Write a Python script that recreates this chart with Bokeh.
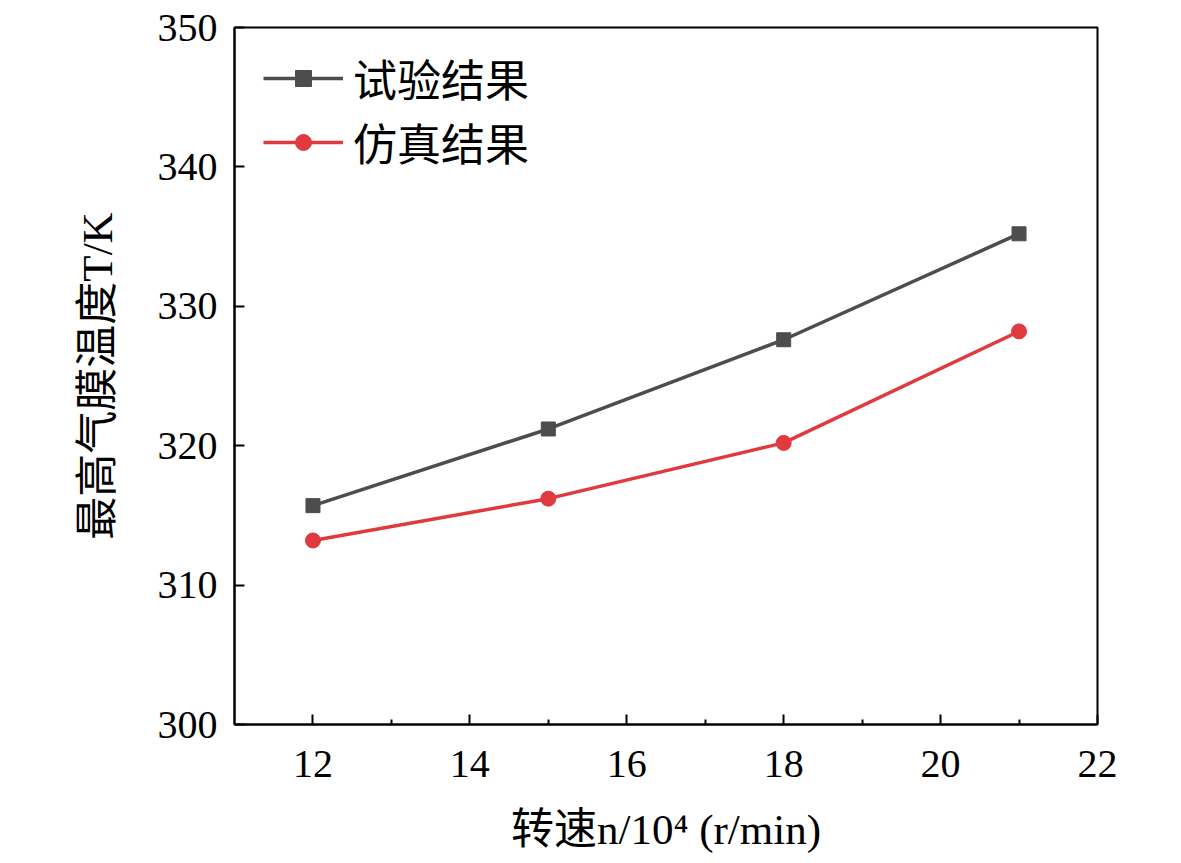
from bokeh.plotting import figure
from bokeh.models import FixedTicker, Legend, LegendItem, Range1d
from bokeh.embed import file_html
from bokeh.resources import INLINE

speed = [12, 15, 18, 21]
test_result = [315.7, 321.2, 327.6, 335.2]
sim_result = [313.2, 316.2, 320.2, 328.2]
x_ticks = [12, 14, 16, 18, 20, 22]
x_minor = [13, 15, 17, 19, 21]
y_ticks = [300, 310, 320, 330, 340, 350]
names = ["试验结果", "仿真结果"]

SERIF = "'Liberation Serif', 'Noto Sans CJK SC'"
GRAY = "#4d4d4d"
RED = "#e0393e"

p = figure(width=1165, height=855, output_backend="svg", toolbar_location=None,
           x_range=Range1d(11, 22), y_range=Range1d(300, 350),
           min_border_left=234, min_border_right=68, min_border_top=27, min_border_bottom=121)
p.grid.visible = False
p.background_fill_color = "white"
p.border_fill_color = "white"
p.outline_line_color = "black"
p.outline_line_width = 2

p.xaxis.ticker = FixedTicker(ticks=x_ticks, minor_ticks=x_minor)
p.yaxis.ticker = FixedTicker(ticks=y_ticks, minor_ticks=[])
for ax in (p.xaxis, p.yaxis):
    ax.axis_line_width = 2
    ax.axis_line_color = "black"
    ax.major_tick_in = 10
    ax.major_tick_out = 0
    ax.minor_tick_in = 5
    ax.minor_tick_out = 0
    ax.major_tick_line_width = 2
    ax.minor_tick_line_width = 2
    ax.major_label_text_font = SERIF
    ax.major_label_text_font_size = "40px"
    ax.major_label_text_color = "black"
    ax.axis_label_text_font = SERIF
    ax.axis_label_text_font_size = "43px"
    ax.axis_label_text_font_style = "normal"
    ax.axis_label_text_color = "black"
p.xaxis.major_label_standoff = 26
p.yaxis.major_label_standoff = 17
p.xaxis.axis_label = "转速n/10⁴ (r/min)"
p.yaxis.axis_label = "最高气膜温度T/K"
p.xaxis.axis_label_standoff = 26
p.yaxis.axis_label_standoff = 34

l1 = p.line(speed, test_result, line_color=GRAY, line_width=3.5)
m1 = p.scatter(speed, test_result, marker="square", size=14, fill_color=GRAY, line_color=GRAY)
l2 = p.line(speed, sim_result, line_color=RED, line_width=3.5)
m2 = p.scatter(speed, sim_result, marker="circle", size=15, fill_color=RED, line_color=RED)

legend = Legend(items=[LegendItem(label=names[0], renderers=[l1, m1]),
                       LegendItem(label=names[1], renderers=[l2, m2])],
                location=(29, 550), border_line_color=None, background_fill_alpha=0,
                label_text_font=SERIF, label_text_font_size="44px", label_text_color="black",
                glyph_width=80, glyph_height=40, label_standoff=10, spacing=-8,
                margin=0, padding=2, label_height=40)
p.add_layout(legend)

open("out.html", "w").write(file_html(p, INLINE))
